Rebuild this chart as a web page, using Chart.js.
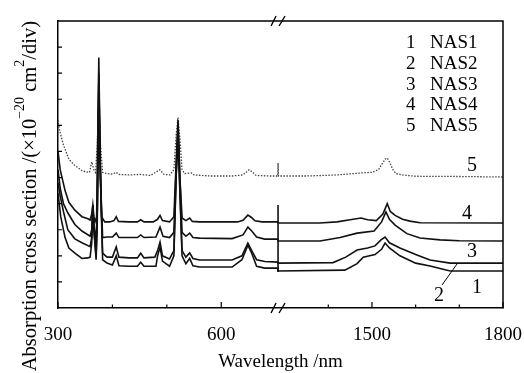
<!DOCTYPE html>
<html>
<head>
<meta charset="utf-8">
<script src="https://cdn.jsdelivr.net/npm/chart.js@4.4.1/dist/chart.umd.min.js"></script>
<style>
  html, body { margin: 0; padding: 0; background: #fff; }
  #wrap { width: 524px; height: 373px; }
</style>
</head>
<body>
<div id="wrap"><canvas id="absChart" width="524" height="373"></canvas></div>
<script>
  // wavelengths (nm) and absorption values (divisions)
  const nas1Wl  = [300, 305, 313, 320, 331, 344, 355, 359, 362, 364, 366, 370, 372, 375, 378, 382, 390, 400, 407, 412, 430, 446, 452, 458, 480, 483, 487.5, 492, 505, 513, 517, 520.6, 524, 528, 535, 542, 548, 560, 620, 638, 649, 656, 665, 680, 704,
                   1285, 1438, 1466, 1480, 1507, 1522, 1530, 1540, 1564, 1600, 1633, 1679, 1800];
  const nas1Abs = [4.4, 3.5, 2.7, 2.3, 2.1, 1.9, 1.92, 1.95, 2.5, 3.95, 3.0, 1.85, 3.0, 8.2, 5.0, 1.85, 1.72, 1.65, 2.0, 1.62, 1.6, 1.6, 1.75, 1.6, 1.6, 2.0, 2.34, 1.8, 1.6, 2.0, 5.0, 6.59, 4.5, 2.0, 1.7, 1.9, 1.62, 1.57, 1.57, 1.85, 2.41, 2.1, 1.6, 1.53, 1.53,
                   1.42, 1.45, 1.7, 1.95, 2.05, 2.25, 2.49, 2.3, 2.0, 1.72, 1.61, 1.42, 1.42];

  const nas2Wl  = [300, 304, 310, 318, 331, 344, 359, 362, 364, 366, 370, 372, 375, 378, 382, 390, 400, 407, 412, 430, 446, 452, 458, 478, 483, 487.5, 492, 505, 513, 517, 520.6, 524, 528, 535, 542, 548, 560, 620, 638, 649, 656, 665, 680, 704,
                   1285, 1411, 1440, 1466, 1490, 1507, 1520, 1530, 1540, 1564, 1600, 1633, 1679, 1800];
  const nas2Abs = [4.8, 4.3, 3.7, 3.0, 2.65, 2.5, 2.35, 2.7, 3.95, 3.0, 2.0, 3.5, 8.6, 5.0, 2.1, 1.95, 1.95, 2.34, 1.95, 1.92, 1.92, 2.1, 1.92, 1.95, 2.2, 2.53, 2.0, 1.88, 2.2, 5.0, 6.74, 4.5, 2.2, 1.95, 2.11, 1.9, 1.84, 1.84, 2.0, 2.49, 2.2, 1.85, 1.78, 1.76,
                   1.72, 1.74, 1.95, 2.22, 2.3, 2.38, 2.6, 2.72, 2.5, 2.3, 2.05, 1.84, 1.72, 1.72];

  const nas3Wl  = [300, 304, 310, 318, 331, 344, 359, 362, 364, 366, 369, 372, 375, 378, 382, 390, 400, 407, 412, 446, 452, 458, 480, 487.5, 493, 505, 513, 517, 520.6, 524, 528, 535, 542, 548, 560, 620, 640, 649, 656, 665, 680, 704,
                   1285, 1381, 1427, 1466, 1480, 1505, 1522, 1532, 1540, 1553, 1580, 1610, 1656, 1700, 1800];
  const nas3Abs = [5.3, 4.6, 4.0, 3.65, 3.2, 2.95, 2.75, 3.0, 3.85, 3.2, 2.55, 3.5, 9.0, 5.0, 2.7, 2.72, 2.72, 2.87, 2.7, 2.7, 2.8, 2.7, 2.72, 3.1, 2.75, 2.7, 2.9, 5.3, 6.97, 5.0, 2.9, 2.75, 2.87, 2.7, 2.68, 2.66, 2.8, 3.1, 2.95, 2.72, 2.64, 2.64,
                   2.57, 2.57, 2.7, 2.87, 2.9, 2.95, 3.3, 3.68, 3.4, 3.18, 2.85, 2.68, 2.61, 2.58, 2.57];

  const nas4Wl  = [300, 304, 313, 320, 331, 344, 355, 359, 362, 364, 366, 368, 371, 373, 375, 377, 380, 386, 395, 403, 407, 411, 430, 446, 452, 458, 475, 483, 487.5, 492, 505, 513, 517, 520.6, 524, 528, 535, 542, 547, 560, 630, 640, 649, 655, 662, 675, 704,
                   1285, 1380, 1420, 1450, 1475, 1490, 1510, 1525, 1535, 1542, 1553, 1570, 1587, 1610, 1800];
  const nas4Abs = [6.0, 5.3, 4.5, 4.05, 3.75, 3.5, 3.42, 3.37, 3.6, 3.95, 3.5, 3.3, 3.5, 6.5, 9.6, 6.5, 3.5, 3.3, 3.3, 3.35, 3.5, 3.32, 3.3, 3.3, 3.38, 3.3, 3.3, 3.4, 3.55, 3.35, 3.3, 3.5, 5.5, 7.2, 5.0, 3.45, 3.35, 3.45, 3.32, 3.3, 3.3, 3.36, 3.56, 3.48, 3.34, 3.3, 3.3,
                   3.26, 3.26, 3.3, 3.38, 3.45, 3.38, 3.35, 3.6, 4.0, 3.7, 3.55, 3.4, 3.33, 3.27, 3.26];

  const nas5Wl  = [300, 303, 310, 320, 330, 345, 358, 362, 366, 369, 372, 375, 378, 382, 390, 400, 407, 412, 430, 451, 470, 487, 495, 506, 513, 517, 520.5, 524, 528, 533, 545, 550, 580, 620, 640, 651, 658, 664, 690, 704,
                   1285, 1286, 1350, 1420, 1470, 1500, 1515, 1530, 1535, 1540, 1548, 1555, 1570, 1600, 1700, 1800];
  const nas5Abs = [7.2, 6.8, 6.25, 5.7, 5.48, 5.25, 5.2, 5.6, 5.3, 5.2, 6.2, 7.95, 6.3, 5.2, 5.15, 5.13, 5.2, 5.12, 5.1, 5.12, 5.08, 5.3, 5.12, 5.1, 5.3, 6.6, 7.3, 6.5, 5.3, 5.15, 5.18, 5.1, 5.06, 5.06, 5.1, 5.3, 5.2, 5.08, 5.06, 5.06,
                   5.56, 5.06, 5.06, 5.1, 5.17, 5.2, 5.3, 5.7, 5.75, 5.6, 5.3, 5.15, 5.1, 5.05, 5.04, 5.02];

  // the short vertical joint at the axis break
  const joinWl  = [1285, 1285];
  const joinAbs = [1.38, 3.95];

  const majorTicks = [300, 600, 1500, 1800];
  const minorTicks = [400, 500, 1400, 1600, 1700];
  const seriesNames = ['NAS1', 'NAS2', 'NAS3', 'NAS4', 'NAS5'];

  // broken axis: 300-704 nm on the left, 1285-1800 nm on the right
  function toAxis(wl) {
    return wl < 1000 ? (wl - 300) * 0.544 : 220 + (wl - 1285) * 0.4367;
  }
  function fromAxis(u) {
    return u <= 220 ? 300 + u / 0.544 : 1285 + (u - 220) / 0.4367;
  }
  function pts(wl, vals) {
    return wl.map((w, i) => ({ x: toAxis(w), y: vals[i] }));
  }

  const serif = '"Liberation Serif", "DejaVu Serif", serif';

  const decor = {
    id: 'decor',
    afterDraw(chart) {
      const ctx = chart.ctx;
      const a = chart.chartArea;
      const xs = chart.scales.x, ys = chart.scales.y;
      ctx.save();
      ctx.strokeStyle = '#000';
      ctx.lineWidth = 1.5;

      // top and right frame
      ctx.beginPath();
      ctx.moveTo(a.left, a.top); ctx.lineTo(a.right, a.top); ctx.lineTo(a.right, a.bottom);
      ctx.stroke();

      // inward ticks
      ctx.lineWidth = 1.2;
      ctx.beginPath();
      for (let v = 1; v < 11; v++) {
        const py = ys.getPixelForValue(v);
        ctx.moveTo(a.left, py); ctx.lineTo(a.left + 4, py);
      }
      majorTicks.forEach(w => {
        const px = xs.getPixelForValue(toAxis(w));
        ctx.moveTo(px, a.bottom); ctx.lineTo(px, a.bottom - 6);
      });
      minorTicks.forEach(w => {
        const px = xs.getPixelForValue(toAxis(w));
        ctx.moveTo(px, a.bottom); ctx.lineTo(px, a.bottom - 3.5);
      });
      ctx.stroke();

      // break marks
      const bx = xs.getPixelForValue(220);
      ctx.lineWidth = 1.4;
      [a.top, a.bottom].forEach(by => {
        ctx.beginPath();
        ctx.moveTo(bx - 7, by + 5); ctx.lineTo(bx - 2, by - 5);
        ctx.moveTo(bx + 1, by + 5); ctx.lineTo(bx + 7, by - 5);
        ctx.stroke();
      });

      // legend text
      ctx.fillStyle = '#000';
      ctx.font = '19px ' + serif;
      ctx.textBaseline = 'middle';
      seriesNames.forEach((n, i) => {
        const ly = 43 + i * 20.8;
        ctx.textAlign = 'left';
        ctx.fillText(String(i + 1), 406, ly);
        ctx.fillText(n, 430, ly);
      });

      // curve numbers
      ctx.font = '20px ' + serif;
      ctx.textAlign = 'center';
      ctx.fillText('5', 472, 166);
      ctx.fillText('4', 467, 214);
      ctx.fillText('3', 472, 252);
      ctx.fillText('2', 439, 296);
      ctx.fillText('1', 477, 288);
      ctx.lineWidth = 1;
      ctx.beginPath();
      ctx.moveTo(457, 264); ctx.lineTo(442, 285);
      ctx.stroke();

      // y title with superscripts
      const parts = [
        ['Absorption cross section /(\u00d710', 20.5, 0],
        ['\u221220', 14, -12],
        [' cm', 20.5, 0],
        ['2', 14, -12],
        ['/div)', 20.5, 0]
      ];
      ctx.save();
      ctx.translate(36, 0);
      ctx.rotate(-Math.PI / 2);
      ctx.textAlign = 'left';
      ctx.textBaseline = 'alphabetic';
      let total = 0;
      parts.forEach(p => { ctx.font = p[1] + 'px ' + serif; total += ctx.measureText(p[0]).width; });
      let tx = -21 - total;
      parts.forEach(p => {
        ctx.font = p[1] + 'px ' + serif;
        ctx.fillText(p[0], tx, p[2]);
        tx += ctx.measureText(p[0]).width;
      });
      ctx.restore();
      ctx.restore();
    }
  };

  const solid = (label, data) => ({
    label, data,
    borderColor: '#111',
    borderWidth: 1.6,
    pointRadius: 0,
    tension: 0,
    fill: false
  });

  new Chart(document.getElementById('absChart'), {
    type: 'line',
    data: {
      datasets: [
        solid('NAS1', pts(nas1Wl, nas1Abs)),
        solid('NAS2', pts(nas2Wl, nas2Abs)),
        solid('NAS3', pts(nas3Wl, nas3Abs)),
        solid('NAS4', pts(nas4Wl, nas4Abs)),
        {
          label: 'NAS5',
          data: pts(nas5Wl, nas5Abs),
          borderColor: '#444',
          borderWidth: 1.3,
          borderDash: [1.5, 1.5],
          pointRadius: 0,
          tension: 0,
          fill: false
        },
        solid('join', pts(joinWl, joinAbs))
      ]
    },
    options: {
      responsive: false,
      animation: false,
      layout: { padding: { left: 58, right: 21, top: 21, bottom: 0 } },
      plugins: { legend: { display: false }, tooltip: { enabled: false } },
      scales: {
        x: {
          type: 'linear',
          min: 0,
          max: toAxis(1800),
          afterBuildTicks: s => { s.ticks = majorTicks.map(w => ({ value: toAxis(w) })); },
          afterFit: s => { s.paddingLeft = 0; s.paddingRight = 0; s.height = 65; },
          ticks: {
            autoSkip: false,
            maxRotation: 0,
            padding: 16,
            color: '#000',
            font: { family: serif, size: 19 },
            callback: v => String(Math.round(fromAxis(v)))
          },
          grid: { display: false, drawTicks: false },
          border: { display: true, color: '#000', width: 1.5 },
          title: {
            display: true,
            text: 'Wavelength /nm',
            color: '#000',
            font: { family: serif, size: 19 },
            padding: { top: 0, bottom: 0 }
          }
        },
        y: {
          min: 0,
          max: 11,
          ticks: { display: false },
          grid: { display: false, drawTicks: false },
          border: { display: true, color: '#000', width: 1.5 }
        }
      }
    },
    plugins: [decor]
  });
</script>
</body>
</html>
